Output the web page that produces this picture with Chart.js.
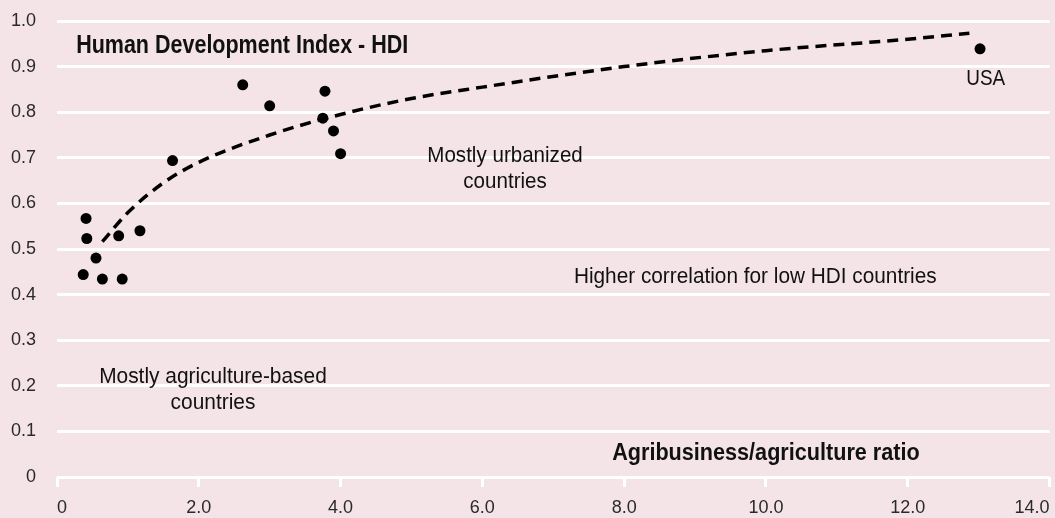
<!DOCTYPE html>
<html>
<head>
<meta charset="utf-8">
<script src="https://cdn.jsdelivr.net/npm/chart.js@4.4.1/dist/chart.umd.min.js"></script>
<style>
  html, body { margin: 0; padding: 0; background: #f4e4e8; }
  #wrap { width: 1055px; height: 518px; position: relative; }
</style>
</head>
<body>
<div id="wrap"><canvas id="chart"></canvas></div>
<script>
// --- Datos ---
const ratioX = [0.37, 0.41, 0.42, 0.55, 0.64, 0.87, 0.92, 1.17, 1.63, 2.62, 3.0, 3.78, 3.75, 3.9, 4.0, 13.02];
const hdiY   = [0.444, 0.567, 0.523, 0.48, 0.434, 0.529, 0.434, 0.54, 0.694, 0.86, 0.814, 0.846, 0.787, 0.759, 0.709, 0.939];

// linea de tendencia
const trendX = [0.64, 1.0, 1.5, 2.0, 3.0, 4.0, 5.0, 6.0, 8.0, 10.0, 12.0, 12.87];
const trendY = [0.516, 0.58, 0.645, 0.69, 0.75, 0.795, 0.83, 0.855, 0.90, 0.935, 0.96, 0.973];

const xTickLabels = ['0', '2.0', '4.0', '6.0', '8.0', '10.0', '12.0', '14.0'];
const yTickLabels = ['0', '0.1', '0.2', '0.3', '0.4', '0.5', '0.6', '0.7', '0.8', '0.9', '1.0'];

const FONT = "'Liberation Sans', Arial, sans-serif";

// textos sobre el grafico (x, y en unidades de datos; y = linea base)
// stretch simula la fuente condensada del original
const notas = [
    { text: 'Human Development Index - HDI', x: 0.27, y: 0.930, bold: true, size: 25, stretch: 0.86, align: 'left' },
    { text: 'Mostly urbanized', x: 6.32, y: 0.691, size: 22, stretch: 0.935, align: 'center' },
    { text: 'countries', x: 6.32, y: 0.633, size: 22, stretch: 0.935, align: 'center' },
    { text: 'Higher correlation for low HDI countries', x: 9.85, y: 0.425, size: 22, stretch: 0.945, align: 'center' },
    { text: 'Mostly agriculture-based', x: 2.2, y: 0.206, size: 22, stretch: 0.95, align: 'center' },
    { text: 'countries', x: 2.2, y: 0.149, size: 22, stretch: 0.95, align: 'center' },
    { text: 'Agribusiness/agriculture ratio', x: 10.0, y: 0.038, bold: true, size: 23, stretch: 0.94, align: 'center' },
    { text: 'USA', x: 13.1, y: 0.860, size: 22, stretch: 0.86, align: 'center' }
];

const notasPlugin = {
    id: 'notas',
    afterDatasetsDraw(chart) {
        const ctx = chart.ctx;
        const sx = chart.scales.x, sy = chart.scales.y;
        notas.forEach(n => {
            ctx.save();
            ctx.fillStyle = '#111';
            ctx.textBaseline = 'alphabetic';
            ctx.font = (n.bold ? 'bold ' : '') + n.size + 'px ' + FONT;
            ctx.textAlign = n.align;
            ctx.translate(sx.getPixelForValue(n.x), sy.getPixelForValue(n.y));
            ctx.scale(n.stretch, 1);
            ctx.fillText(n.text, 0, 0);
            ctx.restore();
        });
    }
};

const puntos = ratioX.map((x, i) => ({ x: x, y: hdiY[i] }));
const tendencia = trendX.map((x, i) => ({ x: x, y: trendY[i] }));

function sinPadding(s) {
    s.paddingLeft = 0;
    s.paddingRight = 0;
    s.paddingTop = 0;
    s.paddingBottom = 0;
}

new Chart(document.getElementById('chart'), {
    type: 'scatter',
    data: {
        datasets: [{
            label: 'Tendencia',
            data: tendencia,
            showLine: true,
            borderColor: '#000',
            borderWidth: 3.5,
            borderDash: [11, 7],
            cubicInterpolationMode: 'monotone',
            pointRadius: 0,
            fill: false
        }, {
            label: 'Paises',
            data: puntos,
            backgroundColor: '#000',
            borderColor: '#000',
            pointRadius: 5.5,
            pointBorderWidth: 0
        }]
    },
    options: {
        responsive: true,
        maintainAspectRatio: false,
        animation: false,
        layout: { padding: { top: 21, right: 4, left: 0, bottom: 0 } },
        plugins: {
            legend: { display: false },
            tooltip: { enabled: false }
        },
        scales: {
            x: {
                type: 'linear',
                min: 0,
                max: 14,
                afterBuildTicks: s => { s.ticks = xTickLabels.map((_, i) => ({ value: i * 2 })); },
                afterFit: s => { s.height = 41; sinPadding(s); },
                border: { display: false },
                grid: {
                    drawOnChartArea: false,
                    drawTicks: true,
                    tickLength: 10,
                    color: '#ffffff',
                    lineWidth: 3
                },
                ticks: {
                    padding: 10,
                    align: 'inner',
                    color: '#2a2a2a',
                    font: { family: FONT, size: 18 },
                    maxRotation: 0,
                    callback: (v, i) => xTickLabels[i]
                }
            },
            y: {
                min: 0,
                max: 1,
                afterBuildTicks: s => { s.ticks = yTickLabels.map((_, i) => ({ value: i / 10 })); },
                afterFit: s => { s.width = 57; sinPadding(s); },
                border: { display: false },
                grid: {
                    drawTicks: false,
                    color: '#ffffff',
                    lineWidth: 3
                },
                ticks: {
                    padding: 21,
                    color: '#2a2a2a',
                    font: { family: FONT, size: 18 },
                    callback: (v, i) => yTickLabels[i]
                }
            }
        }
    },
    plugins: [notasPlugin]
});
</script>
</body>
</html>
